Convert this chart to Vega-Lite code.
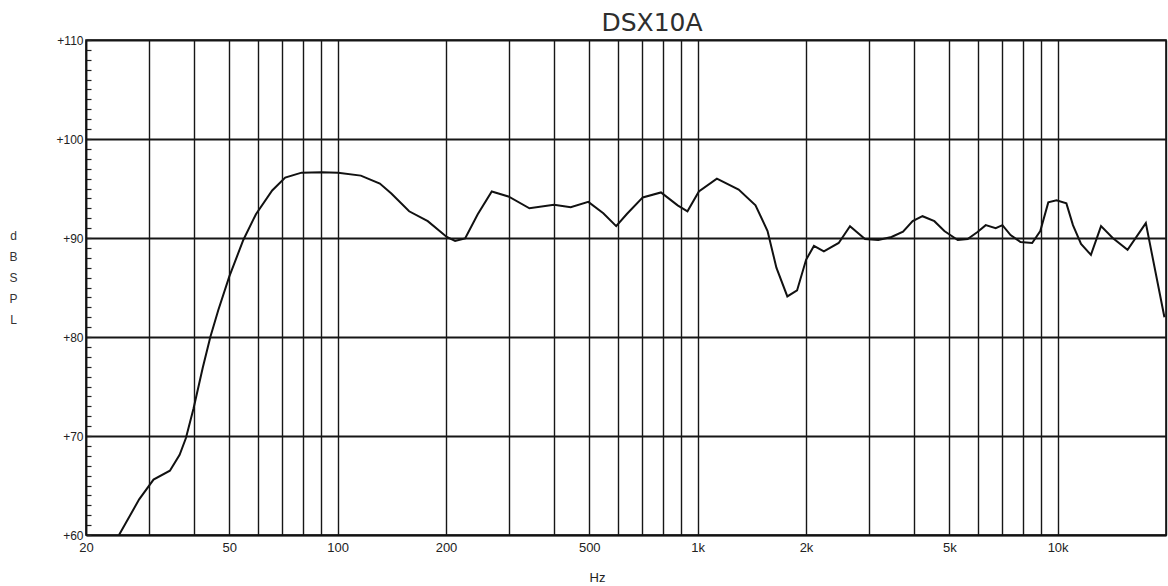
{
  "$schema": "https://vega.github.io/schema/vega-lite/v6.json",
  "width": 1080,
  "height": 495,
  "autosize": {"type": "none"},
  "padding": {"left": 86, "top": 40, "right": 2, "bottom": 51},
  "background": "white",
  "title": {"text": "DSX10A", "fontSize": 25, "font": "DejaVu Sans", "fontWeight": "normal", "color": "#2e2e2e", "anchor": "middle", "dx": 26, "offset": -2},
  "config": {"view": {"stroke": "#111", "strokeWidth": 1.6}},
  "data": {"values": [
    {"freq": 24.7, "db": 60.0}, {"freq": 28.1, "db": 63.6}, {"freq": 30.8, "db": 65.6}, {"freq": 34.2, "db": 66.5},
    {"freq": 36.4, "db": 68.1}, {"freq": 37.9, "db": 69.8}, {"freq": 39.8, "db": 72.8}, {"freq": 42.2, "db": 76.9},
    {"freq": 44.3, "db": 80.0}, {"freq": 46.6, "db": 82.7}, {"freq": 50.0, "db": 86.1}, {"freq": 54.7, "db": 89.8},
    {"freq": 59.3, "db": 92.4}, {"freq": 65.8, "db": 94.8}, {"freq": 71.5, "db": 96.1}, {"freq": 79.4, "db": 96.6},
    {"freq": 90.2, "db": 96.65}, {"freq": 100.3, "db": 96.6}, {"freq": 116, "db": 96.3}, {"freq": 131, "db": 95.5},
    {"freq": 141, "db": 94.5}, {"freq": 158, "db": 92.7}, {"freq": 178, "db": 91.7}, {"freq": 201, "db": 90.1},
    {"freq": 212, "db": 89.7}, {"freq": 226, "db": 89.95}, {"freq": 245, "db": 92.4}, {"freq": 268, "db": 94.7},
    {"freq": 298, "db": 94.2}, {"freq": 341, "db": 93.0}, {"freq": 399, "db": 93.35}, {"freq": 444, "db": 93.1},
    {"freq": 497, "db": 93.65}, {"freq": 547, "db": 92.5}, {"freq": 594, "db": 91.2}, {"freq": 635, "db": 92.4},
    {"freq": 704, "db": 94.1}, {"freq": 791, "db": 94.6}, {"freq": 880, "db": 93.3}, {"freq": 937, "db": 92.7},
    {"freq": 1008, "db": 94.7}, {"freq": 1131, "db": 96.0}, {"freq": 1300, "db": 94.9}, {"freq": 1448, "db": 93.3},
    {"freq": 1564, "db": 90.7}, {"freq": 1655, "db": 87.0}, {"freq": 1775, "db": 84.1}, {"freq": 1889, "db": 84.7},
    {"freq": 2001, "db": 87.8}, {"freq": 2104, "db": 89.2}, {"freq": 2242, "db": 88.65}, {"freq": 2465, "db": 89.5},
    {"freq": 2650, "db": 91.2}, {"freq": 2917, "db": 89.9}, {"freq": 3175, "db": 89.8}, {"freq": 3456, "db": 90.1},
    {"freq": 3720, "db": 90.65}, {"freq": 3956, "db": 91.7}, {"freq": 4214, "db": 92.2}, {"freq": 4546, "db": 91.7},
    {"freq": 4845, "db": 90.7}, {"freq": 5279, "db": 89.8}, {"freq": 5625, "db": 89.9}, {"freq": 5990, "db": 90.6},
    {"freq": 6314, "db": 91.3}, {"freq": 6730, "db": 91.0}, {"freq": 7025, "db": 91.3}, {"freq": 7400, "db": 90.3},
    {"freq": 7884, "db": 89.6}, {"freq": 8496, "db": 89.5}, {"freq": 8950, "db": 90.7}, {"freq": 9420, "db": 93.6},
    {"freq": 9928, "db": 93.8}, {"freq": 10576, "db": 93.5}, {"freq": 11030, "db": 91.3}, {"freq": 11615, "db": 89.4},
    {"freq": 12374, "db": 88.3}, {"freq": 13200, "db": 91.2}, {"freq": 14225, "db": 90.0}, {"freq": 15640, "db": 88.8},
    {"freq": 17580, "db": 91.5}, {"freq": 19800, "db": 82.0}
  ]},
  "mark": {"type": "line", "color": "#111", "strokeWidth": 2, "clip": true},
  "encoding": {
    "x": {
      "field": "freq", "type": "quantitative",
      "scale": {"type": "log", "domain": [20, 20000], "nice": false},
      "axis": {
        "values": [20, 30, 40, 50, 60, 70, 80, 90, 100, 200, 300, 400, 500, 600, 700, 800, 900, 1000, 2000, 3000, 4000, 5000, 6000, 7000, 8000, 9000, 10000, 20000],
        "labelExpr": "indexof([20,50,100,200,500,1000,2000,5000,10000], datum.value) >= 0 ? (datum.value >= 1000 ? (datum.value / 1000) + 'k' : datum.value + '') : ''",
        "grid": true, "gridColor": "#161616", "gridWidth": 1.4, "gridOpacity": 1,
        "ticks": false, "domain": true, "domainColor": "#111", "domainWidth": 1.6,
        "labelFont": "Liberation Sans", "labelFontSize": 13, "labelColor": "#222", "labelPadding": 6,
        "labelFlush": false, "labelOverlap": false,
        "title": "Hz", "titleFont": "Liberation Sans", "titleFontSize": 13, "titleFontWeight": "normal", "titleColor": "#222",
        "titleX": 511, "titleY": 46, "titleBaseline": "alphabetic", "titleAlign": "center"
      }
    },
    "y": {
      "field": "db", "type": "quantitative",
      "scale": {"domain": [60, 110], "nice": false, "zero": false},
      "axis": {
        "values": [60,61,62,63,64,65,66,67,68,69,70,71,72,73,74,75,76,77,78,79,80,81,82,83,84,85,86,87,88,89,90,91,92,93,94,95,96,97,98,99,100,101,102,103,104,105,106,107,108,109,110],
        "labelExpr": "datum.value % 10 === 0 ? '+' + datum.value : ''",
        "grid": true, "gridColor": "#161616", "gridWidth": 1.8,
        "gridOpacity": {"condition": {"test": "datum.value % 10 === 0", "value": 1}, "value": 0},
        "ticks": true, "tickSize": -5, "tickColor": "#222", "tickWidth": 1.2,
        "domain": true, "domainColor": "#111", "domainWidth": 1.6,
        "labelFont": "Liberation Sans", "labelFontSize": 12, "labelColor": "#222", "labelPadding": 8,
        "labelOverlap": false, "labelFlush": false,
        "title": ["d", "B", "S", "P", "L"], "titleAngle": 0, "titleX": -73, "titleY": 190,
        "titleAlign": "center", "titleBaseline": "top", "titleFont": "Liberation Sans", "titleFontSize": 12,
        "titleFontWeight": "normal", "titleColor": "#333", "titleLineHeight": 21
      }
    }
  }
}
